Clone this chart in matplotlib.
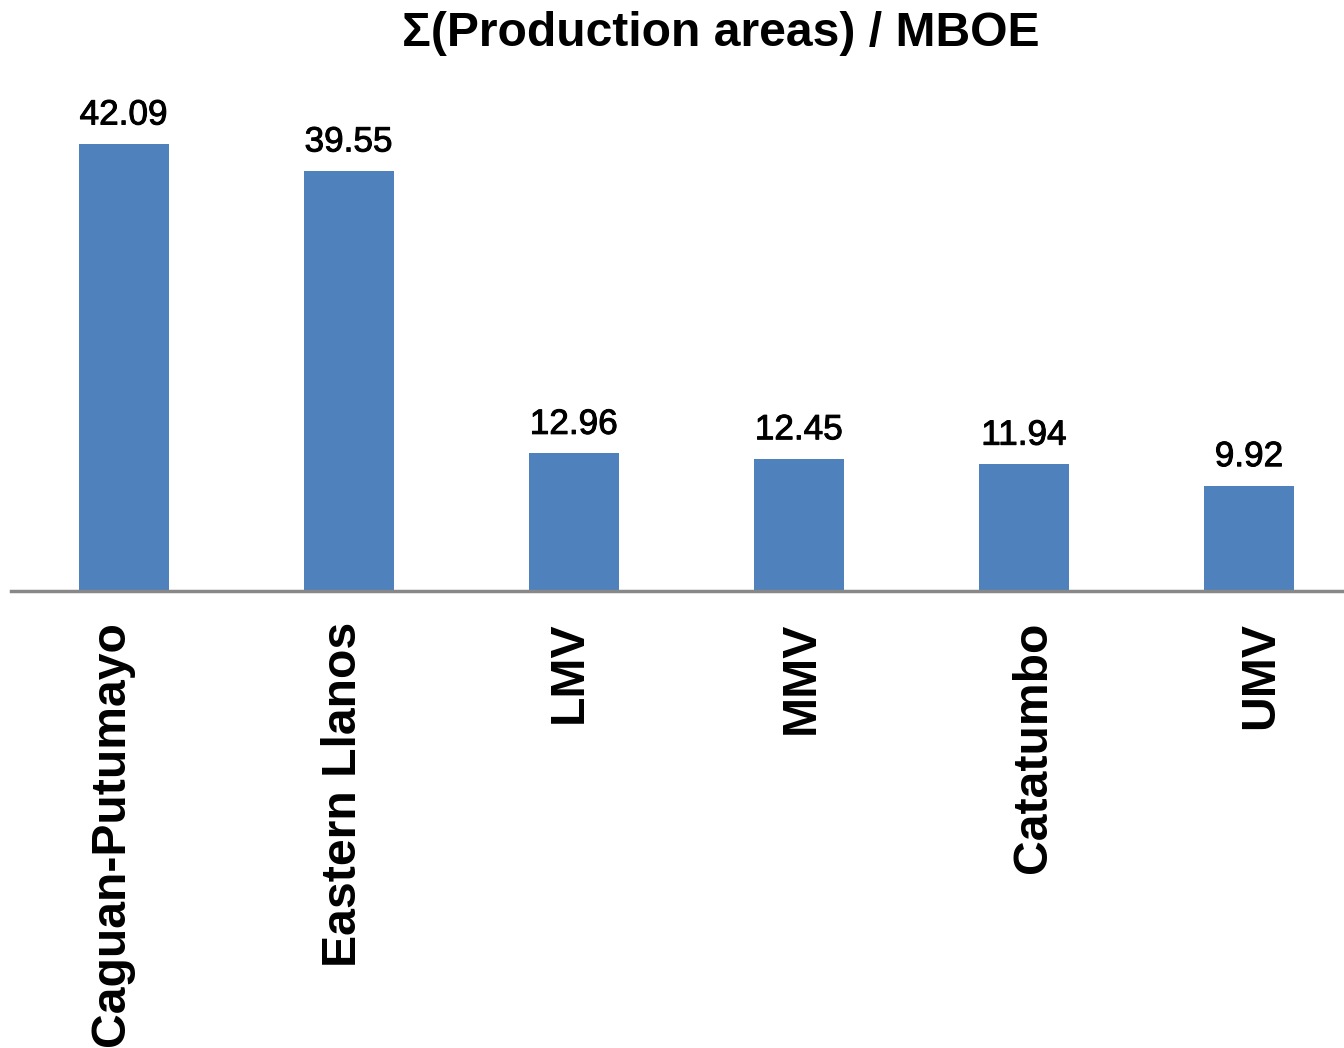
import matplotlib
matplotlib.use("Agg")
import matplotlib.pyplot as plt
import matplotlib.patheffects as pe
from matplotlib.transforms import offset_copy

categories = ["Caguan-Putumayo", "Eastern Llanos", "LMV", "MMV", "Catatumbo", "UMV"]
values = [42.09, 39.55, 12.96, 12.45, 11.94, 9.92]
value_labels = ["42.09", "39.55", "12.96", "12.45", "11.94", "9.92"]
title = "\u03a3(Production areas) / MBOE"

W, H = 1344, 1048
fig = plt.figure(figsize=(W / 100, H / 100), dpi=100)
left_px, right_px, base_px, top_px = 11, 1344, 591, 60
ax = fig.add_axes([left_px / W, (H - base_px) / H,
                   (right_px - left_px) / W, (base_px - top_px) / H])

x = list(range(len(categories)))
ax.bar(x, values, width=0.4, color="#4F81BD", zorder=2)

ax.set_xlim(-0.5, (right_px - 124) / 225)
ax.set_ylim(0, (base_px - top_px) / 10.62)

thick = [pe.withStroke(linewidth=0.7, foreground="black")]
for xi, v, lab in zip(x, values, value_labels):
    ax.annotate(lab, (xi, v), xytext=(0, 9), textcoords="offset points",
                ha="center", va="bottom", fontsize=25.3,
                family="Liberation Sans", color="black", path_effects=thick)

# category names, rotated, hung below the baseline
ax.set_xticks([])
label_shift_pt = [-9, -3.5, -3, 1.8, 7, 8.5]
for xi, name, dx in zip(x, categories, label_shift_pt):
    tr = offset_copy(ax.get_xaxis_transform(), fig=fig, x=dx, y=-22,
                     units="points")
    ax.text(xi, 0, name, transform=tr, rotation=90, ha="center", va="top",
            fontsize=34.7, fontweight="bold", family="Liberation Sans")
ax.set_yticks([])

for s in ("top", "right", "left"):
    ax.spines[s].set_visible(False)
ax.spines["bottom"].set_color("#888888")
ax.spines["bottom"].set_linewidth(2.5)
ax.spines["bottom"].set_zorder(3)

fig.text(721 / W, 1 - 33 / H, title, ha="center", va="center",
         fontsize=34.6, fontweight="bold", family="Liberation Sans")

fig.savefig("out.png", dpi=100, facecolor="white")
